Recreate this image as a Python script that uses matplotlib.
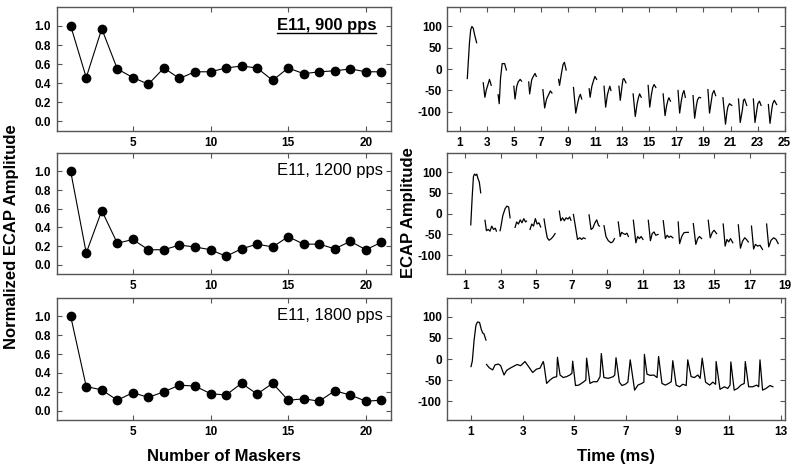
import matplotlib
matplotlib.use('Agg')
import matplotlib.pyplot as plt
from matplotlib.lines import Line2D

plt.rcParams['font.family'] = ['Liberation Sans', 'DejaVu Sans']
plt.rcParams['axes.unicode_minus'] = False

# left column: normalized ECAP amplitude vs number of maskers
maskers = list(range(1, 22))
amp_900 = [1.0, 0.46, 0.97, 0.55, 0.46, 0.39, 0.56, 0.45, 0.52, 0.52, 0.56,
           0.58, 0.56, 0.43, 0.56, 0.50, 0.52, 0.53, 0.55, 0.52, 0.52]
amp_1200 = [1.0, 0.125, 0.58, 0.23, 0.27, 0.16, 0.16, 0.21, 0.19, 0.16, 0.09,
            0.17, 0.22, 0.19, 0.30, 0.22, 0.22, 0.17, 0.25, 0.16, 0.24]
amp_1800 = [1.0, 0.255, 0.22, 0.11, 0.19, 0.14, 0.20, 0.27, 0.26, 0.18, 0.165,
            0.29, 0.175, 0.29, 0.11, 0.125, 0.10, 0.21, 0.165, 0.10, 0.11]
labels = ['E11, 900 pps', 'E11, 1200 pps', 'E11, 1800 pps']

# right column: recorded ECAP traces, one list per recording window
t_900 = [
    [1.54, 1.62, 1.70, 1.79, 1.88, 1.98, 2.10, 2.23],
    [2.72, 2.84, 2.95, 3.05, 3.18, 3.31],
    [3.82, 3.90, 4.00, 4.12, 4.30, 4.43],
    [4.98, 5.07, 5.20, 5.30, 5.45, 5.55],
    [6.08, 6.15, 6.30, 6.42, 6.55, 6.64],
    [7.13, 7.26, 7.40, 7.55, 7.68, 7.80],
    [8.29, 8.36, 8.50, 8.62, 8.72, 8.85],
    [9.39, 9.56, 9.70, 9.80, 9.90, 10.00],
    [10.55, 10.62, 10.75, 10.88, 10.98, 11.10],
    [11.65, 11.77, 11.90, 12.00, 12.08, 12.16],
    [12.75, 12.85, 12.98, 13.05, 13.12, 13.27],
    [13.80, 13.96, 14.10, 14.20, 14.28, 14.40],
    [14.91, 15.03, 15.15, 15.25, 15.35, 15.48],
    [16.02, 16.16, 16.28, 16.38, 16.45, 16.56],
    [17.12, 17.24, 17.36, 17.46, 17.56, 17.66],
    [18.23, 18.35, 18.48, 18.56, 18.68, 18.79],
    [19.33, 19.45, 19.58, 19.66, 19.78, 19.90],
    [20.44, 20.63, 20.74, 20.80, 20.92, 21.10],
    [21.59, 21.72, 21.88, 21.96, 22.04, 22.20],
    [22.69, 22.81, 22.95, 23.02, 23.14, 23.26],
    [23.80, 23.92, 24.05, 24.12, 24.24, 24.41],
]
v_900 = [
    [-22, 20, 62, 92, 100, 96, 78, 62],
    [-32, -66, -48, -38, -24, -38],
    [-60, -81, -20, 13, 13, -2],
    [-40, -70, -40, -30, -24, -28],
    [-30, -58, -25, -17, -10, -17],
    [-48, -91, -70, -60, -51, -56],
    [-24, -38, -10, 11, 16, -2],
    [-43, -103, -80, -66, -59, -70],
    [-46, -66, -40, -26, -17, -24],
    [-40, -89, -60, -48, -40, -50],
    [-40, -73, -40, -24, -22, -32],
    [-58, -111, -80, -66, -58, -66],
    [-38, -89, -60, -43, -36, -43],
    [-58, -109, -85, -72, -67, -75],
    [-50, -103, -75, -58, -50, -66],
    [-62, -115, -85, -72, -66, -67],
    [-48, -103, -75, -58, -50, -62],
    [-67, -129, -100, -89, -81, -85],
    [-70, -125, -95, -73, -70, -85],
    [-70, -125, -95, -81, -75, -85],
    [-83, -127, -95, -81, -73, -83],
]

t_1200 = [
    [1.32, 1.40, 1.47, 1.53, 1.60, 1.66, 1.72, 1.80, 1.88],
    [2.12, 2.20, 2.30, 2.40, 2.50, 2.60, 2.70, 2.76],
    [2.97, 3.02, 3.12, 3.25, 3.35, 3.45, 3.53],
    [3.81, 3.90, 4.00, 4.10, 4.20, 4.30, 4.40, 4.45],
    [4.65, 4.75, 4.85, 4.95, 5.05, 5.15, 5.25],
    [5.44, 5.52, 5.62, 5.72, 5.85, 5.95, 6.06],
    [6.30, 6.38, 6.48, 6.58, 6.68, 6.78, 6.88, 6.95],
    [7.09, 7.20, 7.32, 7.45, 7.55, 7.65, 7.75],
    [7.97, 8.08, 8.18, 8.30, 8.40, 8.50, 8.55],
    [8.81, 8.92, 9.05, 9.20, 9.30, 9.40],
    [9.61, 9.72, 9.80, 9.90, 10.00, 10.10, 10.18],
    [10.46, 10.60, 10.70, 10.80, 10.90, 11.00],
    [11.30, 11.42, 11.52, 11.62, 11.72, 11.85],
    [12.14, 12.26, 12.36, 12.46, 12.56, 12.68],
    [12.98, 13.06, 13.18, 13.30, 13.42, 13.55],
    [13.83, 13.97, 14.08, 14.18, 14.30],
    [14.67, 14.78, 14.90, 15.00, 15.14],
    [15.51, 15.62, 15.72, 15.82, 15.92, 16.05],
    [16.36, 16.48, 16.60, 16.72, 16.82, 16.92],
    [17.10, 17.22, 17.32, 17.45, 17.58, 17.72],
    [17.95, 18.07, 18.20, 18.35, 18.48, 18.60],
]
v_1200 = [
    [-27, 40, 89, 95, 92, 95, 85, 76, 50],
    [-16, -41, -38, -42, -30, -38, -35, -42],
    [-41, -30, -5, 12, 18, 16, -10],
    [-33, -20, -25, -15, -22, -12, -20, -18],
    [-38, -25, -30, -12, -25, -22, -32],
    [-13, -35, -58, -64, -60, -55, -48],
    [6, -17, -10, -17, -10, -13, -8, -16],
    [-2, -30, -62, -58, -62, -58, -60],
    [-3, -38, -35, -22, -15, -28, -30],
    [-29, -55, -65, -70, -68, -60],
    [-20, -55, -45, -48, -50, -47, -55],
    [-16, -70, -55, -60, -55, -62],
    [-16, -65, -48, -44, -52, -50],
    [-17, -60, -52, -57, -54, -58],
    [-20, -72, -55, -46, -45, -45],
    [-24, -74, -60, -55, -60],
    [-16, -58, -45, -40, -48],
    [-25, -78, -62, -68, -60, -70],
    [-27, -83, -66, -58, -62, -68],
    [-30, -85, -74, -78, -76, -86],
    [-25, -80, -64, -58, -62, -72],
]

t_1800 = [
    [1.00, 1.05, 1.12, 1.19, 1.25, 1.33, 1.40, 1.45, 1.50, 1.58],
    [1.60, 1.71, 1.84, 1.93, 2.06, 2.15, 2.28, 2.38, 2.54, 2.66, 2.79, 2.92,
     3.09, 3.22, 3.39, 3.54, 3.67, 3.80, 3.83, 3.93, 4.06, 4.19, 4.32, 4.35,
     4.45, 4.57, 4.70, 4.83, 4.91, 4.94, 5.05, 5.18, 5.35, 5.45, 5.48, 5.61,
     5.74, 5.89, 6.00, 6.05, 6.15, 6.32, 6.51, 6.57, 6.62, 6.75, 6.85, 6.98,
     7.08, 7.17, 7.34, 7.47, 7.62, 7.70, 7.72, 7.82, 7.95, 8.08, 8.21, 8.27,
     8.40, 8.53, 8.66, 8.76, 8.82, 8.95, 9.08, 9.21, 9.34, 9.40, 9.53, 9.66,
     9.79, 9.88, 9.96, 10.09, 10.25, 10.37, 10.48, 10.50, 10.65, 10.82, 10.95,
     11.04, 11.07, 11.20, 11.33, 11.46, 11.59, 11.63, 11.76, 11.92, 12.07,
     12.15, 12.20, 12.30, 12.43, 12.59, 12.70],
]
v_1800 = [
    [-18, -5, 45, 80, 88, 87, 70, 62, 60, 45],
    [-13, -21, -26, -14, -12, -16, -38, -27, -21, -17, -13, -16,
     -6, -17, -32, -24, -22, -6, -14, -58, -50, -44, -42, 4,
     -38, -44, -42, -38, -34, -5, -63, -62, -55, -50, 2, -58,
     -54, -54, -42, 13, -44, -46, -42, -38, 3, -55, -63, -60,
     -55, -2, -74, -62, -58, -55, 11, -36, -39, -38, -44, 6,
     -58, -62, -58, -54, -4, -62, -66, -60, -63, -2, -42, -44,
     -38, -46, 2, -55, -62, -55, -60, -6, -72, -66, -70,
     -62, -7, -74, -70, -62, -58, -6, -66, -66, -62,
     -66, -2, -74, -70, -63, -66],
]

x_right = [(0.06, 25.05), (0.0, 19.0), (0.08, 13.18)]
xticks_right = [list(range(1, 26, 2)), list(range(1, 20, 2)), list(range(1, 14, 2))]

frame = '#555555'
fig = plt.figure(figsize=(8, 4.74), dpi=100)
rows = [(0.7236, 0.2610), (0.4220, 0.2546), (0.1139, 0.2574)]


def style(ax):
    for s in ax.spines.values():
        s.set_color(frame)
        s.set_linewidth(1.0)
    ax.tick_params(direction='in', length=3.5, width=0.8, color=frame,
                   top=True, right=True, labelsize=8.5, pad=4)
    for lab in ax.get_xticklabels() + ax.get_yticklabels():
        lab.set_fontweight('bold')


titles = []
for i, amp in enumerate([amp_900, amp_1200, amp_1800]):
    b, h = rows[i]
    ax = fig.add_axes([0.0709, b, 0.4175, h])
    ax.plot(maskers, amp, color='black', lw=0.8, marker='o', ms=6,
            markerfacecolor='black', markeredgecolor='black')
    ax.set_xlim(0.1, 21.6)
    ax.set_ylim(-0.1, 1.195)
    ax.set_xticks([5, 10, 15, 20])
    ax.set_yticks([0.0, 0.2, 0.4, 0.6, 0.8, 1.0])
    ax.set_yticklabels(['%.1f' % y for y in ax.get_yticks()])
    style(ax)
    if i == 0:
        tx = ax.text(0.957, 0.851, labels[i], transform=ax.transAxes,
                     ha='right', va='center', fontsize=12, fontweight='bold')
        titles.append(tx)
    else:
        ax.text(0.977, 0.86, labels[i], transform=ax.transAxes,
                ha='right', va='center', fontsize=12)

for i, (tt, vv) in enumerate([(t_900, v_900), (t_1200, v_1200), (t_1800, v_1800)]):
    b, h = rows[i]
    ax = fig.add_axes([0.5591, b, 0.4225, h])
    for ts, vs in zip(tt, vv):
        ax.plot(ts, vs, color='black', lw=0.9)
    ax.set_xlim(*x_right[i])
    ax.set_ylim(-145, 145)
    ax.set_xticks(xticks_right[i])
    ax.set_yticks([-100, -50, 0, 50, 100])
    style(ax)

fig.text(0.015, 0.5, 'Normalized ECAP Amplitude', rotation=90, ha='center',
         va='center', fontsize=12, fontweight='bold')
fig.text(0.511, 1 - 213 / 474, 'ECAP Amplitude', rotation=90, ha='center',
         va='center', fontsize=12, fontweight='bold')
fig.text(0.2796, 0.0365, 'Number of Maskers', ha='center', va='center',
         fontsize=12, fontweight='bold')
fig.text(0.7703, 0.0365, 'Time (ms)', ha='center', va='center',
         fontsize=12, fontweight='bold')

# underline the first panel label
fig.canvas.draw()
r = fig.canvas.get_renderer()
for tx in titles:
    bb = tx.get_window_extent(r).transformed(fig.transFigure.inverted())
    fig.add_artist(Line2D([bb.x0, bb.x1], [bb.y0 + 0.001, bb.y0 + 0.001],
                          transform=fig.transFigure, color='black', lw=1.0))

fig.savefig('out.png', dpi=100)
